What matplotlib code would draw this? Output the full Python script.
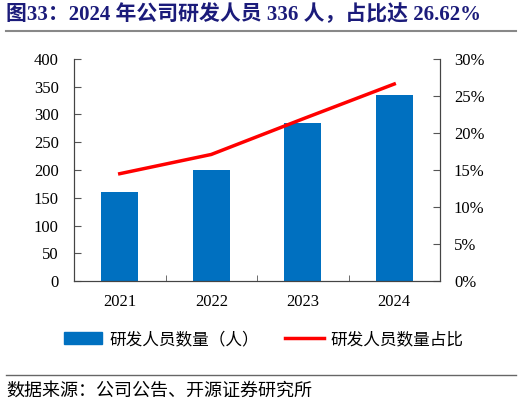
import matplotlib
matplotlib.use('Agg')
import matplotlib.pyplot as plt
from matplotlib.lines import Line2D
from matplotlib.patches import Patch
from matplotlib.ticker import FuncFormatter, FixedLocator

plt.rcParams['font.family'] = ['Liberation Serif', 'Noto Sans CJK SC']

years = ['2021', '2022', '2023', '2024']
staff = [160, 200, 285, 336]
share = [14.5, 17.1, 21.9, 26.62]

bar_color = '#0070C0'
line_color = '#FF0000'
title_color = '#1B1B7A'

fig = plt.figure(figsize=(5.22, 4.05), dpi=100)
ax = fig.add_axes([74 / 522, 1 - 281 / 405, (440 - 74) / 522, (281 - 59) / 405])
x = range(len(years))
ax.bar(x, staff, width=0.4, color=bar_color, zorder=2)
ax.set_ylim(0, 400)
ax.set_yticks(range(0, 401, 50))
ax.set_xlim(-0.5, 3.5)
ax.set_xticks(list(x))
ax.set_xticklabels(years)
ax.xaxis.set_minor_locator(FixedLocator([0.5, 1.5, 2.5]))
ax.tick_params(axis='x', which='major', length=0, pad=9, labelsize=12)
ax.tick_params(axis='x', which='minor', direction='in', length=4, color='#555555')
ax.tick_params(axis='y', direction='in', length=5, labelsize=12, pad=11, color='#555555')
ax.spines['top'].set_visible(False)
for s in ['left', 'bottom', 'right']:
    ax.spines[s].set_color('#444444')

ax2 = ax.twinx()
ax2.plot(x, share, color=line_color, lw=2.5, zorder=3)
ax2.set_ylim(0, 30)
ax2.set_yticks(range(0, 31, 5))
ax2.yaxis.set_major_formatter(FuncFormatter(lambda v, p: '%d%%' % v))
ax2.tick_params(axis='y', direction='in', length=5, labelsize=12, pad=10, color='#555555')
ax2.spines['top'].set_visible(False)
for s in ['left', 'bottom', 'right']:
    ax2.spines[s].set_color('#444444')

handles = [Patch(color=bar_color), Line2D([], [], color=line_color, lw=2.5)]
fig.legend(handles, ['研发人员数量（人）', '研发人员数量占比'],
           loc='center', bbox_to_anchor=(0.505, 1 - 340 / 405), ncol=2, frameon=False,
           fontsize=12, handlelength=2.3, handletextpad=0.4, columnspacing=1.6)

fig.text(6 / 522, 1 - 15 / 405, '图33：2024 年公司研发人员 336 人，占比达 26.62%',
         fontsize=15, fontweight='bold', color=title_color, va='center')
fig.add_artist(Line2D([6 / 522, 516 / 522], [1 - 31 / 405] * 2, color='#888888', lw=1.5))
fig.add_artist(Line2D([6 / 522, 516 / 522], [1 - 375 / 405] * 2, color='#666666', lw=1))
fig.text(6 / 522, 1 - 391 / 405, '数据来源：公司公告、开源证券研究所', fontsize=13, va='center')

fig.savefig('out.png', dpi=100)
